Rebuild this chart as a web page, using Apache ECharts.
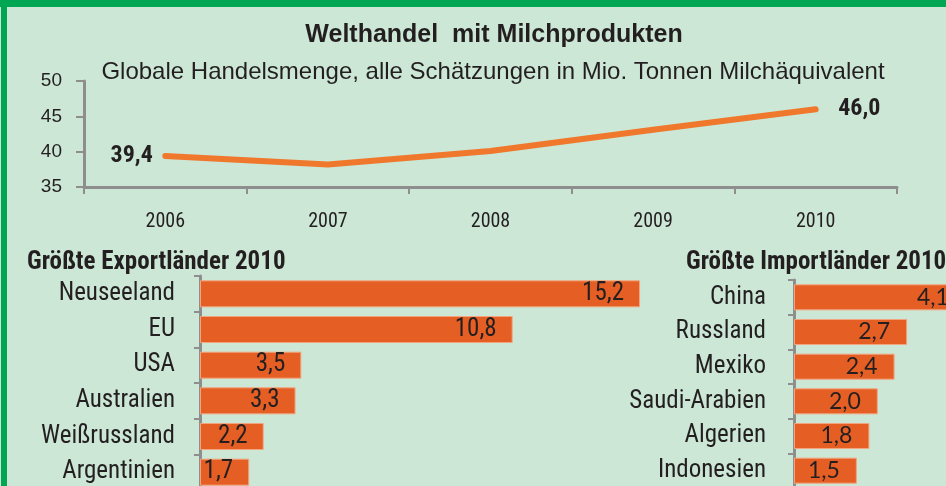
<!DOCTYPE html>
<html>
<head>
<meta charset="utf-8">
<script src="https://cdn.jsdelivr.net/npm/echarts@6/dist/echarts.min.js"></script>
<style>
  html, body { margin: 0; padding: 0; background: #cce7d5; overflow: hidden; }
  /* the original is a crop of a larger graphic, so the canvas runs past the window */
  #chart { width: 1020px; height: 510px; }
</style>
</head>
<body>
<div id="chart"></div>
<script>
const years = ['2006', '2007', '2008', '2009', '2010']
const tradeVolume = [39.4, 38.2, 40.1, 43.1, 46.0]

const exportCountries = ['Neuseeland', 'EU', 'USA', 'Australien', 'Weißrussland', 'Argentinien']
const exportValues = [15.2, 10.8, 3.5, 3.3, 2.2, 1.7]

const importCountries = ['China', 'Russland', 'Mexiko', 'Saudi-Arabien', 'Algerien', 'Indonesien']
const importValues = [4.1, 2.7, 2.4, 2.0, 1.8, 1.5]

const NARROW = '"Roboto Condensed", "Liberation Sans Narrow", sans-serif'
const WIDE = '"Liberation Sans", Arial, sans-serif'
const TEXT = '#231f20'
const AXIS = '#8e8e8e'
const LINE_COLOR = '#f0782d'
const BAR_COLOR = '#e55f25'

const de = v => v.toFixed(1).replace('.', ',')

// only the first and last point of the line carry a value label
const lineData = tradeVolume.map((v, i) => {
  if (i === 0) return { value: v, label: { show: true, position: 'left', distance: 12 } }
  if (i === tradeVolume.length - 1) return { value: v, label: { show: true, position: 'right', distance: 22 } }
  return v
})

function catAxis(gridIndex, data, margin) {
  return {
    type: 'category', gridIndex, data, inverse: true,
    axisLine: { lineStyle: { color: AXIS, width: 3 } },
    axisTick: { show: true, length: 6, lineStyle: { color: AXIS, width: 2 } },
    axisLabel: { color: TEXT, fontFamily: NARROW, fontSize: 25, margin }
  }
}

function valAxis(gridIndex, max) {
  return { type: 'value', gridIndex, min: 0, max, show: false, splitLine: { show: false } }
}

const chart = echarts.init(document.getElementById('chart'), null, { renderer: 'canvas' })

chart.setOption({
  backgroundColor: '#cce7d5',
  animation: false,
  title: [
    {
      text: 'Welthandel  mit Milchprodukten',
      left: 489, top: 18, textAlign: 'center',
      textStyle: { fontFamily: WIDE, fontSize: 25, fontWeight: 'bold', color: TEXT }
    },
    {
      text: 'Globale Handelsmenge, alle Schätzungen in Mio. Tonnen Milchäquivalent',
      left: 488, top: 55, textAlign: 'center',
      textStyle: { fontFamily: WIDE, fontSize: 24, fontWeight: 'normal', color: TEXT }
    },
    {
      text: 'Größte Exportländer 2010',
      left: 22, top: 245,
      textStyle: { fontFamily: NARROW, fontSize: 25, fontWeight: 'bold', color: TEXT }
    },
    {
      text: 'Größte Importländer 2010',
      left: 681, top: 245,
      textStyle: { fontFamily: NARROW, fontSize: 25, fontWeight: 'bold', color: TEXT }
    }
  ],
  graphic: [
    { type: 'rect', shape: { x: 0, y: 0, width: 1020, height: 7 }, style: { fill: '#00a651' }, z: 100 },
    { type: 'rect', shape: { x: 1, y: 0, width: 6, height: 510 }, style: { fill: '#00a651' }, z: 100 }
  ],
  grid: [
    { left: 84, top: 81, width: 813, height: 106 },
    { left: 200, top: 276, width: 579, height: 214 },
    { left: 794, top: 280, width: 209.5, height: 208 }
  ],
  xAxis: [
    {
      type: 'category', gridIndex: 0, data: years, boundaryGap: true,
      axisLine: { lineStyle: { color: AXIS, width: 3 } },
      axisTick: { show: true, length: 7, lineStyle: { color: AXIS, width: 2 } },
      axisLabel: { color: TEXT, fontFamily: NARROW, fontSize: 20, margin: 25 }
    },
    valAxis(1, 20),
    valAxis(2, 5)
  ],
  yAxis: [
    {
      type: 'value', gridIndex: 0, min: 35, max: 50, interval: 5,
      axisLine: { show: true, lineStyle: { color: AXIS, width: 3 } },
      axisTick: { show: true, length: 8, lineStyle: { color: AXIS, width: 2 } },
      axisLabel: { color: TEXT, fontFamily: WIDE, fontSize: 19, margin: 22 },
      splitLine: { show: false }
    },
    catAxis(1, exportCountries, 25),
    catAxis(2, importCountries, 28)
  ],
  series: [
    {
      type: 'line', xAxisIndex: 0, yAxisIndex: 0, data: lineData,
      symbol: 'circle', symbolSize: 1, showSymbol: true,
      itemStyle: { color: LINE_COLOR },
      lineStyle: { color: LINE_COLOR, width: 6, cap: 'round', join: 'round' },
      label: {
        show: false, color: TEXT, fontFamily: NARROW, fontSize: 24, fontWeight: 'bold',
        formatter: p => de(p.value)
      }
    },
    {
      type: 'bar', xAxisIndex: 1, yAxisIndex: 1, data: exportValues, barWidth: 27,
      itemStyle: { color: BAR_COLOR, borderColor: '#f3a47e', borderWidth: 1 },
      label: {
        show: true, position: 'insideRight', distance: 16,
        color: TEXT, fontFamily: NARROW, fontSize: 25, formatter: p => de(p.value)
      }
    },
    {
      type: 'bar', xAxisIndex: 2, yAxisIndex: 2, data: importValues, barWidth: 26,
      itemStyle: { color: BAR_COLOR, borderColor: '#f3a47e', borderWidth: 1 },
      label: {
        show: true, position: 'insideRight', distance: 17,
        color: TEXT, fontFamily: 'Lato, "Open Sans", sans-serif', fontSize: 23,
        formatter: p => de(p.value)
      }
    }
  ]
})
</script>
</body>
</html>
